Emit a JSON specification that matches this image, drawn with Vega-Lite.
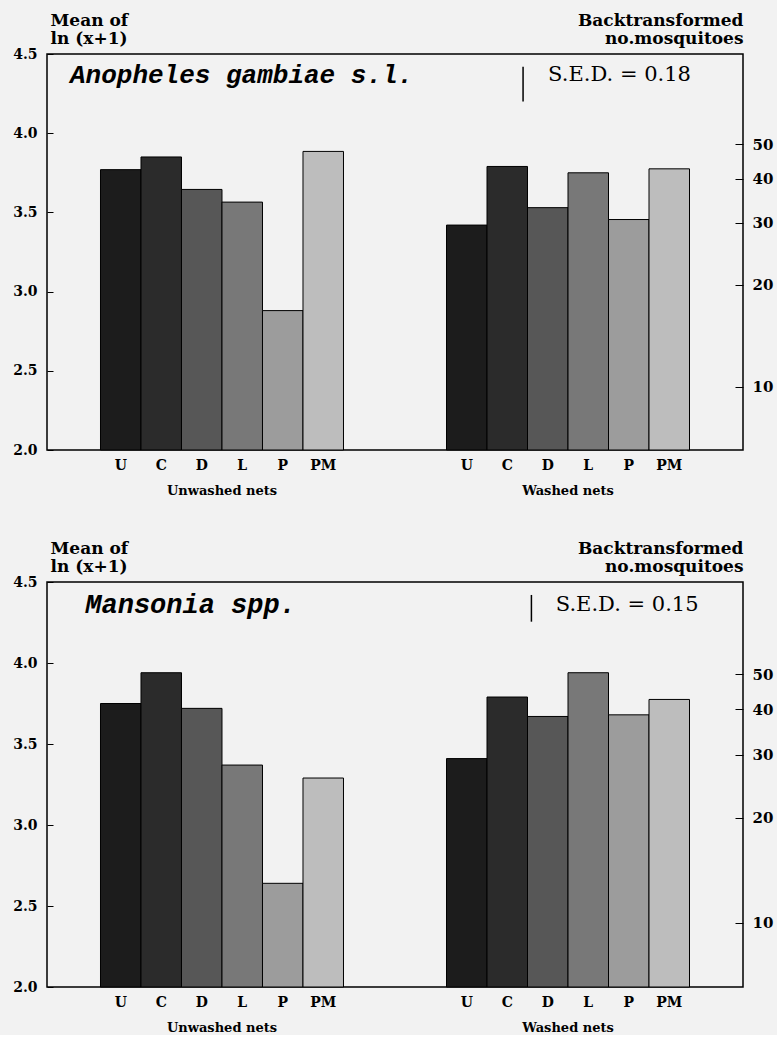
{
  "$schema": "https://vega.github.io/schema/vega-lite/v6.json",
  "background": "#f2f2f2",
  "padding": {"left": 11, "top": 10, "right": 3, "bottom": 0},
  "spacing": 40,
  "config": {
    "view": {"stroke": "black", "strokeWidth": 1.5},
    "axis": {"labelColor": "black", "titleColor": "black", "tickColor": "black", "labelFont": "DejaVu Serif", "titleFont": "DejaVu Serif", "labelFontWeight": "bold", "titleFontWeight": "bold", "grid": false}
  },
  "datasets": {
    "bars": [
      {"species": "Anopheles gambiae s.l.", "group": "Unwashed nets", "treatment": "U", "value": 3.77},
      {"species": "Anopheles gambiae s.l.", "group": "Unwashed nets", "treatment": "C", "value": 3.85},
      {"species": "Anopheles gambiae s.l.", "group": "Unwashed nets", "treatment": "D", "value": 3.645},
      {"species": "Anopheles gambiae s.l.", "group": "Unwashed nets", "treatment": "L", "value": 3.565},
      {"species": "Anopheles gambiae s.l.", "group": "Unwashed nets", "treatment": "P", "value": 2.88},
      {"species": "Anopheles gambiae s.l.", "group": "Unwashed nets", "treatment": "PM", "value": 3.885},
      {"species": "Anopheles gambiae s.l.", "group": "Washed nets", "treatment": "U", "value": 3.42},
      {"species": "Anopheles gambiae s.l.", "group": "Washed nets", "treatment": "C", "value": 3.79},
      {"species": "Anopheles gambiae s.l.", "group": "Washed nets", "treatment": "D", "value": 3.53},
      {"species": "Anopheles gambiae s.l.", "group": "Washed nets", "treatment": "L", "value": 3.75},
      {"species": "Anopheles gambiae s.l.", "group": "Washed nets", "treatment": "P", "value": 3.455},
      {"species": "Anopheles gambiae s.l.", "group": "Washed nets", "treatment": "PM", "value": 3.775},
      {"species": "Mansonia spp.", "group": "Unwashed nets", "treatment": "U", "value": 3.75},
      {"species": "Mansonia spp.", "group": "Unwashed nets", "treatment": "C", "value": 3.94},
      {"species": "Mansonia spp.", "group": "Unwashed nets", "treatment": "D", "value": 3.72},
      {"species": "Mansonia spp.", "group": "Unwashed nets", "treatment": "L", "value": 3.37},
      {"species": "Mansonia spp.", "group": "Unwashed nets", "treatment": "P", "value": 2.64},
      {"species": "Mansonia spp.", "group": "Unwashed nets", "treatment": "PM", "value": 3.29},
      {"species": "Mansonia spp.", "group": "Washed nets", "treatment": "U", "value": 3.41},
      {"species": "Mansonia spp.", "group": "Washed nets", "treatment": "C", "value": 3.79},
      {"species": "Mansonia spp.", "group": "Washed nets", "treatment": "D", "value": 3.67},
      {"species": "Mansonia spp.", "group": "Washed nets", "treatment": "L", "value": 3.94},
      {"species": "Mansonia spp.", "group": "Washed nets", "treatment": "P", "value": 3.68},
      {"species": "Mansonia spp.", "group": "Washed nets", "treatment": "PM", "value": 3.775}
    ],
    "notes": [
      {"species": "Anopheles gambiae s.l.", "sed_label": "S.E.D. = 0.18", "sed_top": 4.42, "sed_bottom": 4.2, "text_y": 4.37},
      {"species": "Mansonia spp.", "sed_label": "S.E.D. = 0.15", "sed_top": 4.42, "sed_bottom": 4.255, "text_y": 4.355}
    ]
  },
  "vconcat": [
    {
      "width": 696, "height": 396,
      "resolve": {"scale": {"x": "independent"}, "axis": {"y": "independent"}},
      "layer": [
        {
          "data": {"name": "bars"},
          "transform": [{"filter": "datum.species === 'Anopheles gambiae s.l.'"}],
          "mark": {"type": "bar", "stroke": "black", "strokeWidth": 1},
          "encoding": {
            "x": {"field": "group", "type": "nominal", "scale": {"domain": ["Unwashed nets", "Washed nets"], "paddingInner": 0.2977, "paddingOuter": 0.1546},
                  "axis": {"title": null, "labelAngle": 0, "ticks": false, "domain": false, "labelPadding": 34, "labelFontSize": 13}},
            "xOffset": {"field": "treatment", "type": "nominal", "scale": {"domain": ["U", "C", "D", "L", "P", "PM"], "paddingInner": 0, "paddingOuter": 0}},
            "y": {"field": "value", "type": "quantitative", "scale": {"domain": [2, 4.5], "zero": false, "nice": false},
                  "axis": {"orient": "left", "values": [2, 2.5, 3, 3.5, 4, 4.5], "format": ".1f", "tickSize": -6, "domain": false, "labelPadding": 16, "labelFontSize": 14,
                           "title": ["Mean of", "ln (x+1)"], "titleAngle": 0, "titleAlign": "left", "titleBaseline": "bottom", "titleX": 3, "titleY": -25, "titleFontSize": 17, "titleLineHeight": 18}},
            "y2": {"datum": 2},
            "fill": {"field": "treatment", "type": "nominal", "scale": {"domain": ["U", "C", "D", "L", "P", "PM"], "range": ["#1c1c1c", "#2b2b2b", "#575757", "#787878", "#9c9c9c", "#bdbdbd"]}, "legend": null}
          }
        },
        {
          "data": {"name": "bars"},
          "transform": [{"filter": "datum.species === 'Anopheles gambiae s.l.'"}],
          "mark": {"type": "text", "color": "black", "font": "DejaVu Serif", "fontWeight": "bold", "fontSize": 14, "baseline": "middle", "dy": 16},
          "encoding": {
            "x": {"field": "group", "type": "nominal", "scale": {"domain": ["Unwashed nets", "Washed nets"], "paddingInner": 0.2977, "paddingOuter": 0.1546}, "axis": null},
            "xOffset": {"field": "treatment", "type": "nominal", "scale": {"domain": ["U", "C", "D", "L", "P", "PM"], "paddingInner": 0, "paddingOuter": 0}},
            "y": {"datum": 2, "type": "quantitative", "scale": {"domain": [2, 4.5], "zero": false, "nice": false}, "axis": null},
            "text": {"field": "treatment"}
          }
        },
        {
          "data": {"name": "notes"},
          "transform": [{"filter": "datum.species === 'Anopheles gambiae s.l.'"}],
          "mark": {"type": "rule", "color": "black", "strokeWidth": 1.5},
          "encoding": {
            "x": {"datum": 0.684, "type": "quantitative", "scale": {"domain": [0, 1], "nice": false, "zero": false}, "axis": null},
            "y": {"field": "sed_top", "type": "quantitative", "scale": {"domain": [2, 4.5], "zero": false, "nice": false},
                  "axis": {"orient": "right", "values": [2.3979, 3.0445, 3.434, 3.7136, 3.9318], "labelExpr": "format(exp(datum.value) - 1, '.0f')", "tickSize": -8, "domain": false, "labelPadding": 17, "labelFontSize": 15,
                           "title": ["Backtransformed", "no.mosquitoes"], "titleAngle": 0, "titleAlign": "right", "titleBaseline": "bottom", "titleX": 0, "titleY": -25, "titleFontSize": 17, "titleLineHeight": 18}},
            "y2": {"field": "sed_bottom"}
          }
        },
        {
          "data": {"name": "notes"},
          "transform": [{"filter": "datum.species === 'Anopheles gambiae s.l.'"}],
          "mark": {"type": "text", "color": "black", "font": "Liberation Mono", "fontStyle": "italic", "fontWeight": "bold", "fontSize": 26, "align": "left", "baseline": "middle"},
          "encoding": {
            "x": {"datum": 0.033, "type": "quantitative", "scale": {"domain": [0, 1], "nice": false, "zero": false}, "axis": null},
            "y": {"field": "text_y", "type": "quantitative", "scale": {"domain": [2, 4.5], "zero": false, "nice": false}, "axis": null},
            "text": {"field": "species"}
          }
        },
        {
          "data": {"name": "notes"},
          "transform": [{"filter": "datum.species === 'Anopheles gambiae s.l.'"}],
          "mark": {"type": "text", "color": "black", "font": "DejaVu Serif", "fontSize": 21, "align": "left", "baseline": "middle"},
          "encoding": {
            "x": {"datum": 0.72, "type": "quantitative", "scale": {"domain": [0, 1], "nice": false, "zero": false}, "axis": null},
            "y": {"field": "text_y", "type": "quantitative", "scale": {"domain": [2, 4.5], "zero": false, "nice": false}, "axis": null},
            "text": {"field": "sed_label"}
          }
        }
      ]
    },
    {
      "width": 696, "height": 405,
      "resolve": {"scale": {"x": "independent"}, "axis": {"y": "independent"}},
      "layer": [
        {
          "data": {"name": "bars"},
          "transform": [{"filter": "datum.species === 'Mansonia spp.'"}],
          "mark": {"type": "bar", "stroke": "black", "strokeWidth": 1},
          "encoding": {
            "x": {"field": "group", "type": "nominal", "scale": {"domain": ["Unwashed nets", "Washed nets"], "paddingInner": 0.2977, "paddingOuter": 0.1546},
                  "axis": {"title": null, "labelAngle": 0, "ticks": false, "domain": false, "labelPadding": 34, "labelFontSize": 13}},
            "xOffset": {"field": "treatment", "type": "nominal", "scale": {"domain": ["U", "C", "D", "L", "P", "PM"], "paddingInner": 0, "paddingOuter": 0}},
            "y": {"field": "value", "type": "quantitative", "scale": {"domain": [2, 4.5], "zero": false, "nice": false},
                  "axis": {"orient": "left", "values": [2, 2.5, 3, 3.5, 4, 4.5], "format": ".1f", "tickSize": -6, "domain": false, "labelPadding": 16, "labelFontSize": 14,
                           "title": ["Mean of", "ln (x+1)"], "titleAngle": 0, "titleAlign": "left", "titleBaseline": "bottom", "titleX": 3, "titleY": -25, "titleFontSize": 17, "titleLineHeight": 18}},
            "y2": {"datum": 2},
            "fill": {"field": "treatment", "type": "nominal", "scale": {"domain": ["U", "C", "D", "L", "P", "PM"], "range": ["#1c1c1c", "#2b2b2b", "#575757", "#787878", "#9c9c9c", "#bdbdbd"]}, "legend": null}
          }
        },
        {
          "data": {"name": "bars"},
          "transform": [{"filter": "datum.species === 'Mansonia spp.'"}],
          "mark": {"type": "text", "color": "black", "font": "DejaVu Serif", "fontWeight": "bold", "fontSize": 14, "baseline": "middle", "dy": 16},
          "encoding": {
            "x": {"field": "group", "type": "nominal", "scale": {"domain": ["Unwashed nets", "Washed nets"], "paddingInner": 0.2977, "paddingOuter": 0.1546}, "axis": null},
            "xOffset": {"field": "treatment", "type": "nominal", "scale": {"domain": ["U", "C", "D", "L", "P", "PM"], "paddingInner": 0, "paddingOuter": 0}},
            "y": {"datum": 2, "type": "quantitative", "scale": {"domain": [2, 4.5], "zero": false, "nice": false}, "axis": null},
            "text": {"field": "treatment"}
          }
        },
        {
          "data": {"name": "notes"},
          "transform": [{"filter": "datum.species === 'Mansonia spp.'"}],
          "mark": {"type": "rule", "color": "black", "strokeWidth": 1.5},
          "encoding": {
            "x": {"datum": 0.696, "type": "quantitative", "scale": {"domain": [0, 1], "nice": false, "zero": false}, "axis": null},
            "y": {"field": "sed_top", "type": "quantitative", "scale": {"domain": [2, 4.5], "zero": false, "nice": false},
                  "axis": {"orient": "right", "values": [2.3979, 3.0445, 3.434, 3.7136, 3.9318], "labelExpr": "format(exp(datum.value) - 1, '.0f')", "tickSize": -8, "domain": false, "labelPadding": 17, "labelFontSize": 15,
                           "title": ["Backtransformed", "no.mosquitoes"], "titleAngle": 0, "titleAlign": "right", "titleBaseline": "bottom", "titleX": 0, "titleY": -25, "titleFontSize": 17, "titleLineHeight": 18}},
            "y2": {"field": "sed_bottom"}
          }
        },
        {
          "data": {"name": "notes"},
          "transform": [{"filter": "datum.species === 'Mansonia spp.'"}],
          "mark": {"type": "text", "color": "black", "font": "Liberation Mono", "fontStyle": "italic", "fontWeight": "bold", "fontSize": 27, "align": "left", "baseline": "middle"},
          "encoding": {
            "x": {"datum": 0.055, "type": "quantitative", "scale": {"domain": [0, 1], "nice": false, "zero": false}, "axis": null},
            "y": {"field": "text_y", "type": "quantitative", "scale": {"domain": [2, 4.5], "zero": false, "nice": false}, "axis": null},
            "text": {"field": "species"}
          }
        },
        {
          "data": {"name": "notes"},
          "transform": [{"filter": "datum.species === 'Mansonia spp.'"}],
          "mark": {"type": "text", "color": "black", "font": "DejaVu Serif", "fontSize": 21, "align": "left", "baseline": "middle"},
          "encoding": {
            "x": {"datum": 0.731, "type": "quantitative", "scale": {"domain": [0, 1], "nice": false, "zero": false}, "axis": null},
            "y": {"field": "text_y", "type": "quantitative", "scale": {"domain": [2, 4.5], "zero": false, "nice": false}, "axis": null},
            "text": {"field": "sed_label"}
          }
        }
      ]
    }
  ]
}
